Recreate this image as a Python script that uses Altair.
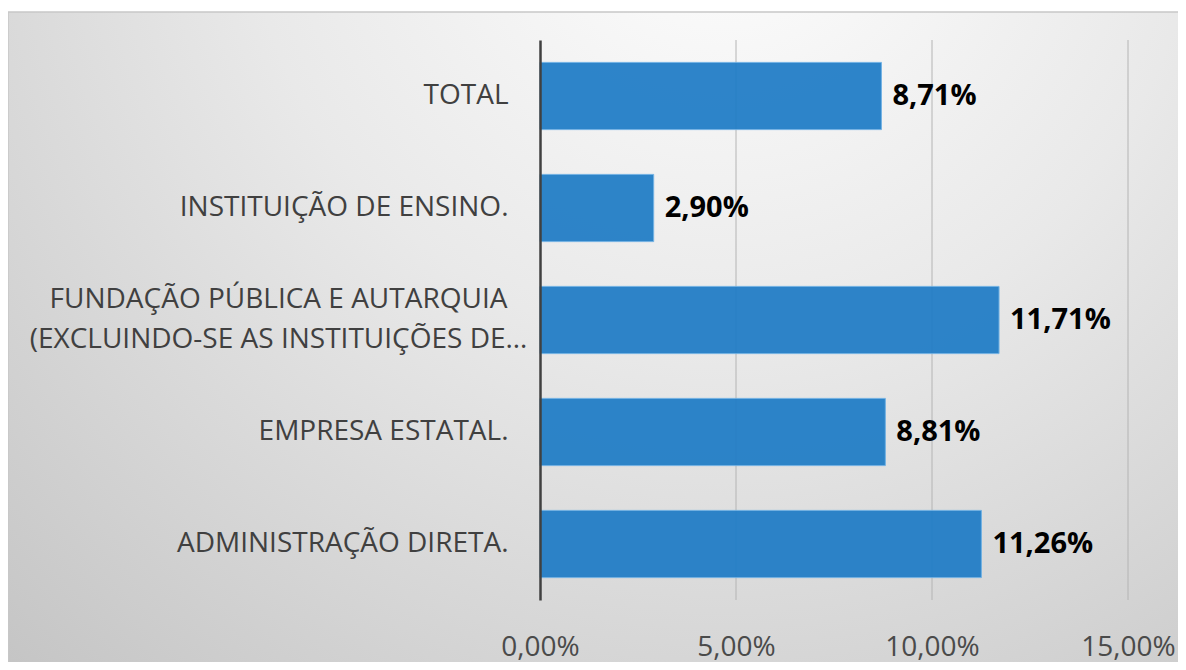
import altair as alt
import pandas as pd

categories = [
    "TOTAL",
    "INSTITUIÇÃO DE ENSINO.",
    "FUNDAÇÃO PÚBLICA E AUTARQUIA\n(EXCLUINDO-SE AS INSTITUIÇÕES DE…",
    "EMPRESA ESTATAL.",
    "ADMINISTRAÇÃO DIRETA.",
]
values = [0.0871, 0.0290, 0.1171, 0.0881, 0.1126]
x_ticks = [0.05, 0.10, 0.15]

df = pd.DataFrame({"categoria": categories, "valor": values})
grid_df = pd.DataFrame({"tick": x_ticks})

FONT = "Open Sans"
W, H = 588, 560
MULTI = "indexof(datum.value, '\\n') >= 0"

bg = alt.Chart(pd.DataFrame({"a": [0]})).mark_rect(
    fill=alt.Gradient(
        gradient="radial",
        stops=[
            alt.GradientStop(color="#ffffff", offset=0),
            alt.GradientStop(color="#e9e9e9", offset=0.4),
            alt.GradientStop(color="#bdbdbd", offset=1),
        ],
        x1=0.6, y1=0.1, x2=0.6, y2=0.1, r1=0, r2=1.0,
    ),
    stroke="#c8c8c8",
    strokeWidth=1.5,
).encode(
    x=alt.value(-532), x2=alt.value(W + 70),
    y=alt.value(-28), y2=alt.value(H + 90),
)

grid = alt.Chart(grid_df).mark_rule(color="#b4b4b4", strokeWidth=1).encode(
    x=alt.X("tick:Q"),
)

base = alt.Chart(df).encode(
    y=alt.Y(
        "categoria:N",
        sort=categories,
        scale=alt.Scale(paddingInner=0.4, paddingOuter=0.2),
        axis=alt.Axis(
            title=None, ticks=False, domain=True, domainColor="#404040",
            domainWidth=2.5, labelFont=FONT, labelFontSize=28,
            labelColor="#404040", labelLimit=600,
            labelExpr="split(datum.label, '\\n')", labelLineHeight=40,
            labelOffset={"condition": {"test": MULTI, "value": -20}, "value": 0},
            labelAlign={"condition": {"test": MULTI, "value": "center"}, "value": "right"},
            labelPadding={"condition": {"test": MULTI, "value": 262}, "value": 32},
            grid=False, zindex=1,
        ),
    ),
)

bars = base.mark_bar(color="#1f7cc6", opacity=0.93, stroke="#6aaee3", strokeWidth=1).encode(
    x=alt.X(
        "valor:Q",
        scale=alt.Scale(domain=[0, 0.15], nice=False),
        axis=alt.Axis(
            title=None, values=[0.0] + x_ticks, ticks=False, domain=False,
            grid=False, zindex=1, labelFlush=False,
            labelFont=FONT, labelFontSize=28, labelColor="#4a4a4a",
            labelPadding=33,
            labelExpr="replace(format(datum.value, '.2%'), '.', ',')",
        ),
    ),
)

labels = base.mark_text(
    align="left", baseline="middle", dx=11, font=FONT, fontSize=29,
    fontWeight="bold", color="#000000",
).transform_calculate(
    rotulo="replace(format(datum.valor, '.2%'), '.', ',')"
).encode(
    x="valor:Q",
    text="rotulo:N",
)

chart = alt.layer(bg, grid, bars, labels).properties(
    width=W, height=H,
    autosize=alt.AutoSizeParams(type="none"),
    padding={"left": 532, "top": 32, "right": 50, "bottom": 62},
    background="#ffffff",
).configure_view(stroke=None)

chart.save("out.html", embed_options={"renderer": "svg", "actions": False})
